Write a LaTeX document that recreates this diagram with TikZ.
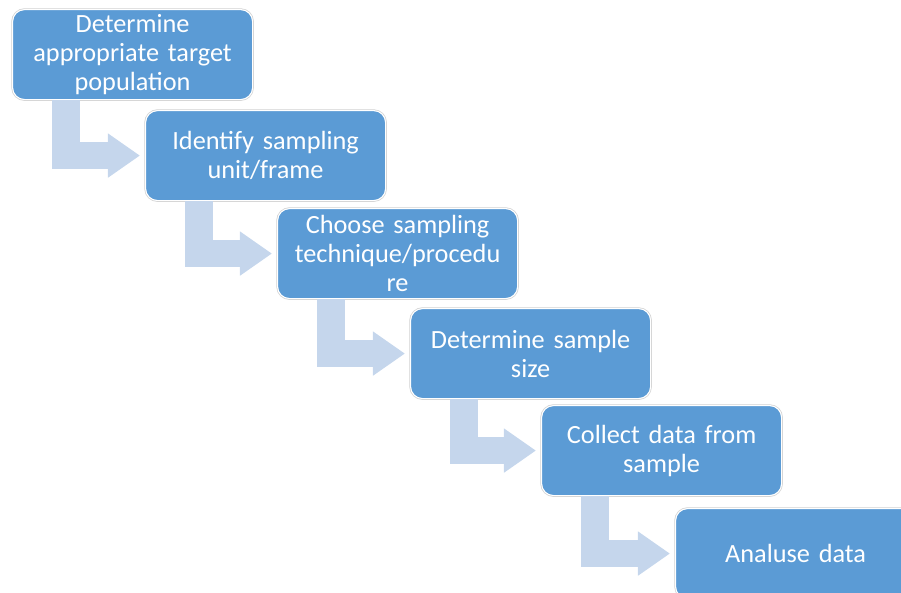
\documentclass[tikz,border=0pt]{standalone}
\usepackage{fontspec}
\setmainfont{Carlito}
\usetikzlibrary{positioning, arrows.meta, calc}

\definecolor{stepblue}{HTML}{5B9BD5}
\definecolor{flowblue}{HTML}{C5D6EC}

\begin{document}
\begin{tikzpicture}[
    x=0.025cm, y=-0.025cm,
    stepbox/.style = {rectangle, rounded corners=0.3cm, fill=stepblue, draw=white, line width=0.8pt,
        preaction={draw=black!18, line width=1.8pt},
        anchor=north west, minimum width=6cm, minimum height=2.25cm, inner sep=0pt,
        text width=5.6cm, align=center, text=white, font=\fontsize{18.7}{20.6}\selectfont},
    flow/.style = {draw=flowblue, line width=0.68cm, line join=miter,
        -{Triangle[length=0.8cm, width=1.05cm]}}
]
    \useasboundingbox (0,0) rectangle (901,592);

    \node[stepbox] (S1) at (12,9) {Determine\\appropriate target\\population};
    \node[stepbox] (S2) at (145,110) {Identify sampling\\unit/frame};
    \node[stepbox] (S3) at (277,208) {Choose sampling\\technique/procedu\\re};
    \node[stepbox] (S4) at (410,308) {Determine sample\\size};
    \node[stepbox] (S5) at (541,405) {Collect data from\\sample};
    \node[stepbox] (S6) at (675,508) {Analuse data};

    \draw[flow] ($(S1.south west)+(54,0)$) |- ($(S2.west)+(-5,0)$);
    \draw[flow] ($(S2.south west)+(54,0)$) |- ($(S3.west)+(-5,0)$);
    \draw[flow] ($(S3.south west)+(54,0)$) |- ($(S4.west)+(-5,0)$);
    \draw[flow] ($(S4.south west)+(54,0)$) |- ($(S5.west)+(-5,0)$);
    \draw[flow] ($(S5.south west)+(54,0)$) |- ($(S6.west)+(-5,0)$);
\end{tikzpicture}
\end{document}
